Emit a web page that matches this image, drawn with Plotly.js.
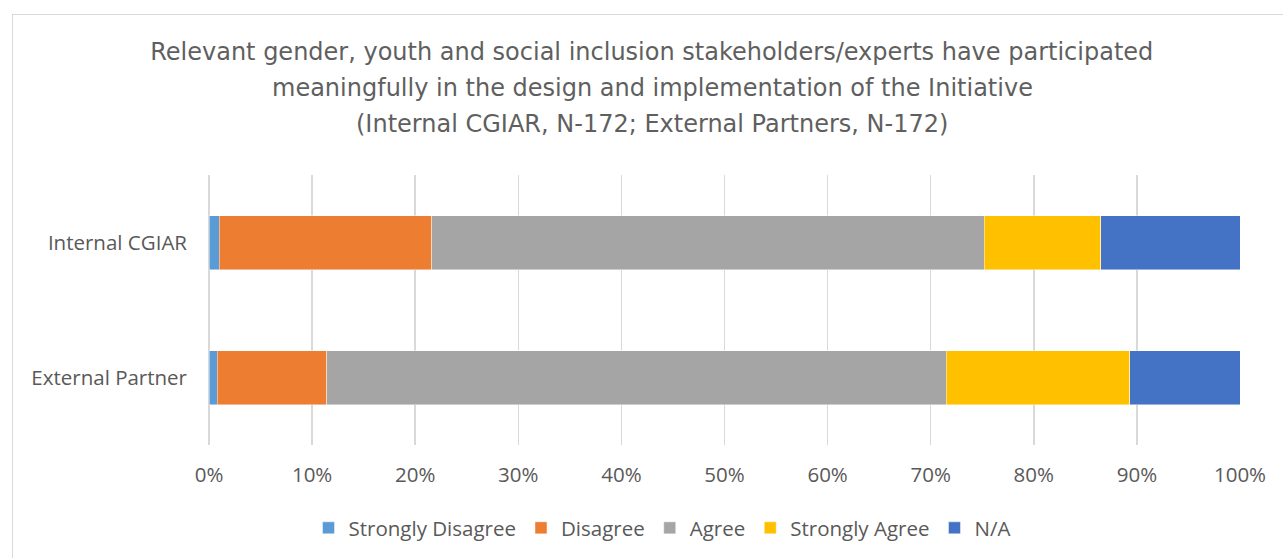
<!DOCTYPE html>
<html>
<head>
<meta charset="utf-8">
<script src="https://cdn.plot.ly/plotly-3.0.1.min.js"></script>
<style>
html,body{margin:0;padding:0;background:#fff;}
#wrap{position:relative;width:1283px;height:558px;overflow:hidden;}
#frame{position:absolute;left:12px;top:14px;width:1300px;height:600px;border:1px solid #d9d9d9;box-sizing:border-box;}
#chart{position:absolute;left:0;top:0;width:1283px;height:558px;}
</style>
</head>
<body>
<div id="wrap"><div id="frame"></div><div id="chart"></div></div>
<script>
const categories = ['Internal CGIAR', 'External Partner'];
const seriesNames = ['Strongly Disagree', 'Disagree', 'Agree', 'Strongly Agree', 'N/A'];
const stronglyDisagree = [1.0, 0.8];
const disagree = [20.6, 10.6];
const agree = [53.6, 60.1];
const stronglyAgree = [11.3, 17.8];
const notApplicable = [13.5, 10.7];
const tickValues = [0,10,20,30,40,50,60,70,80,90,100];
const tickLabels = ['0%','10%','20%','30%','40%','50%','60%','70%','80%','90%','100%'];
const titleLines = [
  'Relevant gender, youth and social inclusion stakeholders/experts have participated',
  'meaningfully in the design and implementation of the Initiative',
  '(Internal CGIAR, N-172; External Partners, N-172)'
];

const colors = ['#5b9bd5', '#ed7d31', '#a5a5a5', '#ffc000', '#4472c4'];
const values = [stronglyDisagree, disagree, agree, stronglyAgree, notApplicable];

const traces = seriesNames.map((n, i) => ({
  type: 'bar',
  orientation: 'h',
  name: n,
  y: categories,
  x: values[i],
  marker: {color: colors[i], line: {color: 'rgba(255,255,255,0.6)', width: 0.75}},
  hoverinfo: 'x+name'
}));

const font = 'Open Sans, Liberation Sans, sans-serif';
const titleFont = {family: 'DejaVu Sans, sans-serif', size: 24, color: '#5f5f5f'};
const layout = {
  width: 1283, height: 558,
  paper_bgcolor: 'rgba(0,0,0,0)',
  plot_bgcolor: 'rgba(0,0,0,0)',
  barmode: 'stack',
  bargap: 0.6,
  margin: {l: 209, r: 43, t: 175, b: 113},
  title: {
    text: titleLines[0],
    font: titleFont,
    x: 0.508, xanchor: 'center',
    y: 1 - 52/558, yanchor: 'middle', yref: 'container'
  },
  annotations: [
    {text: titleLines[1], xref: 'paper', yref: 'paper', x: (652-209)/1031, y: (445-88)/270,
     xanchor: 'center', yanchor: 'middle', showarrow: false, font: titleFont},
    {text: titleLines[2], xref: 'paper', yref: 'paper', x: (652-209)/1031, y: (445-124)/270,
     xanchor: 'center', yanchor: 'middle', showarrow: false, font: titleFont}
  ],
  xaxis: {
    range: [0, 100],
    tickvals: tickValues,
    ticktext: tickLabels,
    showgrid: true,
    gridcolor: '#d9d9d9',
    gridwidth: 1.5,
    zeroline: true,
    zerolinecolor: '#d9d9d9',
    zerolinewidth: 1.5,
    showline: false,
    ticks: '',
    ticklabelstandoff: 15,
    tickfont: {family: font, size: 20.5, color: '#595959'},
    fixedrange: true
  },
  yaxis: {
    type: 'category',
    categoryorder: 'array',
    categoryarray: categories,
    autorange: 'reversed',
    showgrid: false,
    zeroline: false,
    showline: false,
    ticks: '',
    ticklabelstandoff: 21,
    tickfont: {family: font, size: 20.5, color: '#595959'},
    fixedrange: true
  },
  showlegend: true,
  legend: {
    orientation: 'h',
    traceorder: 'normal',
    x: 662/1283, xanchor: 'center', xref: 'container',
    y: 1 - 528/558, yanchor: 'middle', yref: 'container',
    font: {family: font, size: 20.5, color: '#595959'},
    itemwidth: 30,
    bgcolor: 'rgba(0,0,0,0)'
  }
};

Plotly.newPlot('chart', traces, layout, {displayModeBar: false, staticPlot: true});
</script>
</body>
</html>
